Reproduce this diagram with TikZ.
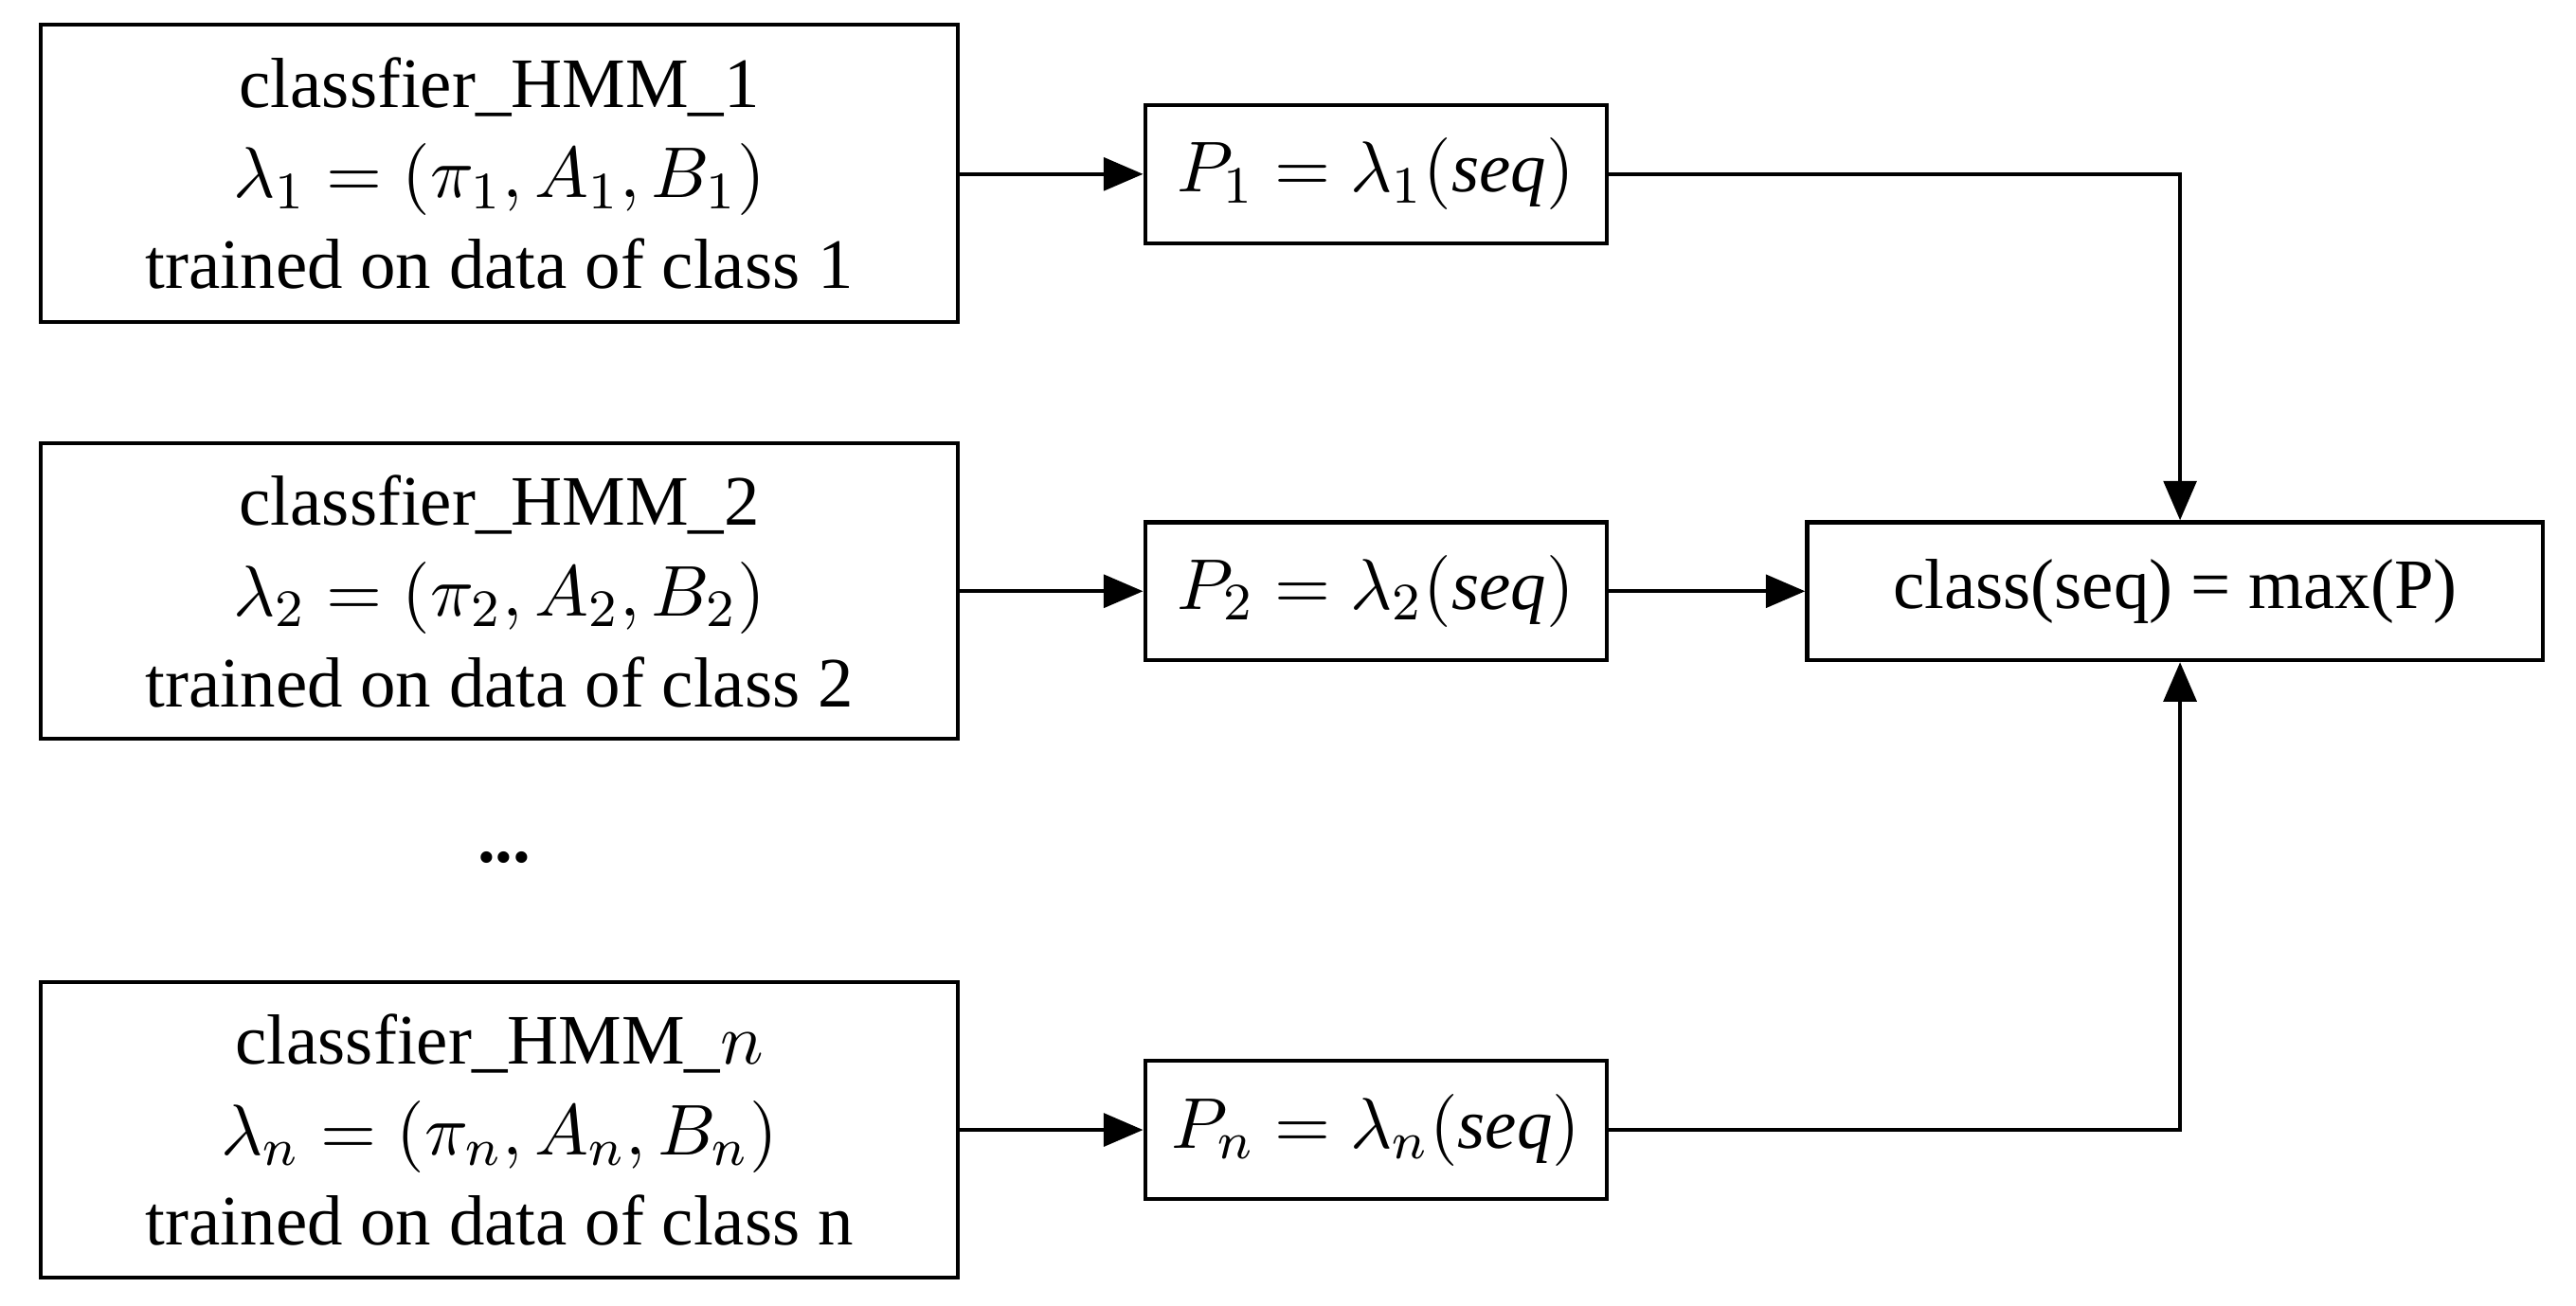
\documentclass[tikz,border=0pt]{standalone}
\usepackage{fontspec}
\setmainfont{Liberation Serif}
\usetikzlibrary{arrows.meta}
\begin{document}
\begin{tikzpicture}[x=0.25pt,y=-0.25pt,
  every node/.style={font=\fontsize{10.8}{13.8}\selectfont},
  bx/.style={draw,line width=0.6pt,inner sep=0pt,align=center},
  ar/.style={line width=0.6pt,-{Triangle[length=6pt,width=5pt]}}]
\useasboundingbox (0,0) rectangle (1568,795);
\node[bx,minimum width=558*0.25pt,minimum height=181*0.25pt] (h1) at (304,105.5) {classfier\_HMM\_1\\$\lambda_1=(\pi_1,A_1,B_1)$\\trained on data of class 1};
\node[bx,minimum width=558*0.25pt,minimum height=180*0.25pt] (h2) at (304,360) {classfier\_HMM\_2\\$\lambda_2=(\pi_2,A_2,B_2)$\\trained on data of class 2};
\node[bx,minimum width=558*0.25pt,minimum height=180*0.25pt] (hn) at (304,688) {classfier\_HMM\_$n$\\$\lambda_n=(\pi_n,A_n,B_n)$\\trained on data of class n};
\node (dots) at (307,522) {\textbf{...}};
\node[bx,minimum width=281*0.25pt,minimum height=84*0.25pt] (p1) at (837.5,106) {$P_1=\lambda_1(\mathit{seq})$};
\node[bx,minimum width=281*0.25pt,minimum height=84*0.25pt] (p2) at (837.5,360) {$P_2=\lambda_2(\mathit{seq})$};
\node[bx,minimum width=281*0.25pt,minimum height=84*0.25pt] (pn) at (837.5,688) {$P_n=\lambda_n(\mathit{seq})$};
\node[bx,minimum width=448*0.25pt,minimum height=84*0.25pt] (c) at (1324,360) {class(seq) = max(P)};
\coordinate (c1) at (1327,106);
\coordinate (cn) at (1327,688);
\draw[ar] (h1.east |- p1) -- (p1.west);
\draw[ar] (h2.east |- p2) -- (p2.west);
\draw[ar] (hn.east |- pn) -- (pn.west);
\draw[ar] (p2.east) -- (c.west);
\draw[ar] (p1.east) -- (c1) -- (c1 |- c.north);
\draw[ar] (pn.east) -- (cn) -- (cn |- c.south);
\end{tikzpicture}
\end{document}
